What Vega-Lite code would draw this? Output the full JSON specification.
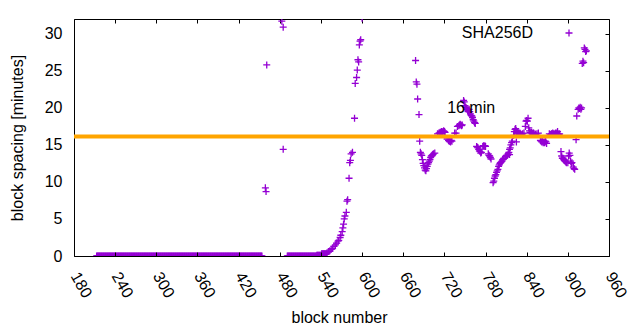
{
"$schema": "https://vega.github.io/schema/vega-lite/v6.json",
"width": 535, "height": 237,
"autosize": "none",
"padding": {"left": 74, "top": 19, "right": 31, "bottom": 74},
"background": "white",
"config": {"font": "Liberation Sans", "view": {"stroke": "black", "strokeWidth": 1},
 "axis": {"grid": false, "labelFont": "Liberation Sans", "titleFont": "Liberation Sans", "labelFontSize": 16, "titleFontSize": 16, "labelColor": "black", "titleColor": "black", "titleFontWeight": "normal", "domainColor": "black", "tickColor": "black"}},
"datasets": {
"pts": [
{"b":213,"v":0},{"b":214,"v":0},{"b":215,"v":0},{"b":216,"v":0},{"b":217,"v":0},{"b":218,"v":0},{"b":219,"v":0},{"b":220,"v":0},{"b":221,"v":0},{"b":222,"v":0},
{"b":223,"v":0},{"b":224,"v":0},{"b":225,"v":0},{"b":226,"v":0},{"b":227,"v":0},{"b":228,"v":0},{"b":229,"v":0},{"b":230,"v":0},{"b":231,"v":0},{"b":232,"v":0},
{"b":233,"v":0},{"b":234,"v":0},{"b":235,"v":0},{"b":236,"v":0},{"b":237,"v":0},{"b":238,"v":0},{"b":239,"v":0},{"b":240,"v":0},{"b":241,"v":0},{"b":242,"v":0},
{"b":243,"v":0},{"b":244,"v":0},{"b":245,"v":0},{"b":246,"v":0},{"b":247,"v":0},{"b":248,"v":0},{"b":249,"v":0},{"b":250,"v":0},{"b":251,"v":0},{"b":252,"v":0},
{"b":253,"v":0},{"b":254,"v":0},{"b":255,"v":0},{"b":256,"v":0},{"b":257,"v":0},{"b":258,"v":0},{"b":259,"v":0},{"b":260,"v":0},{"b":261,"v":0},{"b":262,"v":0},
{"b":263,"v":0},{"b":264,"v":0},{"b":265,"v":0},{"b":266,"v":0},{"b":267,"v":0},{"b":268,"v":0},{"b":269,"v":0},{"b":270,"v":0},{"b":271,"v":0},{"b":272,"v":0},
{"b":273,"v":0},{"b":274,"v":0},{"b":275,"v":0},{"b":276,"v":0},{"b":277,"v":0},{"b":278,"v":0},{"b":279,"v":0},{"b":280,"v":0},{"b":281,"v":0},{"b":282,"v":0},
{"b":283,"v":0},{"b":284,"v":0},{"b":285,"v":0},{"b":286,"v":0},{"b":287,"v":0},{"b":288,"v":0},{"b":289,"v":0},{"b":290,"v":0},{"b":291,"v":0},{"b":292,"v":0},
{"b":293,"v":0},{"b":294,"v":0},{"b":295,"v":0},{"b":296,"v":0},{"b":297,"v":0},{"b":298,"v":0},{"b":299,"v":0},{"b":300,"v":0},{"b":301,"v":0},{"b":302,"v":0},
{"b":303,"v":0},{"b":304,"v":0},{"b":305,"v":0},{"b":306,"v":0},{"b":307,"v":0},{"b":308,"v":0},{"b":309,"v":0},{"b":310,"v":0},{"b":311,"v":0},{"b":312,"v":0},
{"b":313,"v":0},{"b":314,"v":0},{"b":315,"v":0},{"b":316,"v":0},{"b":317,"v":0},{"b":318,"v":0},{"b":319,"v":0},{"b":320,"v":0},{"b":321,"v":0},{"b":322,"v":0},
{"b":323,"v":0},{"b":324,"v":0},{"b":325,"v":0},{"b":326,"v":0},{"b":327,"v":0},{"b":328,"v":0},{"b":329,"v":0},{"b":330,"v":0},{"b":331,"v":0},{"b":332,"v":0},
{"b":333,"v":0},{"b":334,"v":0},{"b":335,"v":0},{"b":336,"v":0},{"b":337,"v":0},{"b":338,"v":0},{"b":339,"v":0},{"b":340,"v":0},{"b":341,"v":0},{"b":342,"v":0},
{"b":343,"v":0},{"b":344,"v":0},{"b":345,"v":0},{"b":346,"v":0},{"b":347,"v":0},{"b":348,"v":0},{"b":349,"v":0},{"b":350,"v":0},{"b":351,"v":0},{"b":352,"v":0},
{"b":353,"v":0},{"b":354,"v":0},{"b":355,"v":0},{"b":356,"v":0},{"b":357,"v":0},{"b":358,"v":0},{"b":359,"v":0},{"b":360,"v":0},{"b":361,"v":0},{"b":362,"v":0},
{"b":363,"v":0},{"b":364,"v":0},{"b":365,"v":0},{"b":366,"v":0},{"b":367,"v":0},{"b":368,"v":0},{"b":369,"v":0},{"b":370,"v":0},{"b":371,"v":0},{"b":372,"v":0},
{"b":373,"v":0},{"b":374,"v":0},{"b":375,"v":0},{"b":376,"v":0},{"b":377,"v":0},{"b":378,"v":0},{"b":379,"v":0},{"b":380,"v":0},{"b":381,"v":0},{"b":382,"v":0},
{"b":383,"v":0},{"b":384,"v":0},{"b":385,"v":0},{"b":386,"v":0},{"b":387,"v":0},{"b":388,"v":0},{"b":389,"v":0},{"b":390,"v":0},{"b":391,"v":0},{"b":392,"v":0},
{"b":393,"v":0},{"b":394,"v":0},{"b":395,"v":0},{"b":396,"v":0},{"b":397,"v":0},{"b":398,"v":0},{"b":399,"v":0},{"b":400,"v":0},{"b":401,"v":0},{"b":402,"v":0},
{"b":403,"v":0},{"b":404,"v":0},{"b":405,"v":0},{"b":406,"v":0},{"b":407,"v":0},{"b":408,"v":0},{"b":409,"v":0},{"b":410,"v":0},{"b":411,"v":0},{"b":412,"v":0},
{"b":413,"v":0},{"b":414,"v":0},{"b":415,"v":0},{"b":416,"v":0},{"b":417,"v":0},{"b":418,"v":0},{"b":419,"v":0},{"b":420,"v":0},{"b":421,"v":0},{"b":422,"v":0},
{"b":423,"v":0},{"b":424,"v":0},{"b":425,"v":0},{"b":426,"v":0},{"b":427,"v":0},{"b":428,"v":0},{"b":429,"v":0},{"b":430,"v":0},{"b":431,"v":0},{"b":432,"v":0},
{"b":433,"v":0},{"b":434,"v":0},{"b":435,"v":0},{"b":436,"v":0},{"b":437,"v":0},{"b":438,"v":0},{"b":439,"v":0},{"b":440,"v":0},{"b":441,"v":0},{"b":442,"v":0},
{"b":443,"v":0},{"b":444,"v":0},{"b":445,"v":0},{"b":446,"v":0},{"b":447,"v":0},{"b":448,"v":0},{"b":449,"v":0},{"b":450,"v":0},{"b":451,"v":0},{"b":452,"v":0},
{"b":453,"v":0},{"b":454,"v":0},
{"b":459,"v":9.2},{"b":460,"v":8.7},{"b":461,"v":25.8},
{"b":483,"v":31.7},{"b":485,"v":30.9},{"b":485,"v":14.4},
{"b":491,"v":0},{"b":492,"v":0},{"b":493,"v":0},{"b":494,"v":0},{"b":495,"v":0},{"b":496,"v":0},{"b":497,"v":0},{"b":498,"v":0},{"b":499,"v":0},{"b":500,"v":0},
{"b":501,"v":0},{"b":502,"v":0},{"b":503,"v":0},{"b":504,"v":0},{"b":505,"v":0},{"b":506,"v":0},{"b":507,"v":0},{"b":508,"v":0},{"b":509,"v":0},{"b":510,"v":0},
{"b":511,"v":0},{"b":512,"v":0},{"b":513,"v":0},{"b":514,"v":0},{"b":515,"v":0},{"b":516,"v":0},{"b":517,"v":0},{"b":518,"v":0},{"b":519,"v":0},{"b":520,"v":0},
{"b":521,"v":0},{"b":522,"v":0},{"b":523,"v":0},{"b":524,"v":0},{"b":525,"v":0},{"b":526,"v":0},{"b":527,"v":0},{"b":528,"v":0},{"b":529,"v":0},{"b":530,"v":0},
{"b":531,"v":0},{"b":532,"v":0},{"b":533,"v":0},
{"b":534,"v":0.1},{"b":535,"v":0.1},{"b":536,"v":0.1},{"b":537,"v":0.1},{"b":538,"v":0.1},{"b":539,"v":0.1},{"b":540,"v":0.1},
{"b":541,"v":0.3},{"b":542,"v":0.3},{"b":543,"v":0.3},{"b":544,"v":0.3},{"b":545,"v":0.3},{"b":546,"v":0.3},{"b":547,"v":0.3},{"b":548,"v":0.3},
{"b":549,"v":0.45},{"b":551,"v":0.6},{"b":553,"v":0.7},{"b":555,"v":0.9},{"b":557,"v":1.0},{"b":559,"v":1.3},{"b":561,"v":1.5},{"b":563,"v":1.75},{"b":565,"v":2.0},{"b":566,"v":2.1},
{"b":568,"v":2.5},{"b":569,"v":2.8},{"b":571,"v":3.3},{"b":572,"v":3.8},{"b":573,"v":4.3},{"b":574,"v":5.0},{"b":575,"v":5.4},{"b":577,"v":5.9},{"b":578,"v":7.4},{"b":579,"v":7.6},
{"b":581,"v":10.5},{"b":582,"v":12.6},{"b":583,"v":12.9},{"b":584,"v":13.8},{"b":586,"v":14.0},{"b":589,"v":18.6},{"b":590,"v":23.3},{"b":592,"v":24.1},{"b":593,"v":25.1},{"b":594,"v":26.5},
{"b":595,"v":26.2},{"b":596,"v":28.5},{"b":597,"v":29.0},{"b":598,"v":29.2},{"b":600,"v":32.1},
{"b":678,"v":26.4},{"b":679,"v":23.5},{"b":680,"v":23.2},{"b":681,"v":21.2},{"b":683,"v":19.1},{"b":684,"v":15.5},{"b":685,"v":14.0},{"b":686,"v":13.8},{"b":687,"v":13.6},{"b":688,"v":13.0},
{"b":689,"v":12.5},{"b":690,"v":12.2},{"b":691,"v":11.9},{"b":692,"v":11.6},{"b":693,"v":11.5},{"b":694,"v":11.8},{"b":695,"v":12.1},{"b":696,"v":12.4},{"b":697,"v":12.6},{"b":698,"v":12.8},
{"b":699,"v":13.0},{"b":700,"v":13.3},{"b":701,"v":13.5},{"b":702,"v":13.6},{"b":703,"v":13.7},{"b":704,"v":13.8},{"b":706,"v":13.9},
{"b":710,"v":16.5},{"b":712,"v":16.6},{"b":713,"v":16.6},{"b":714,"v":16.7},{"b":715,"v":16.7},{"b":716,"v":16.8},{"b":717,"v":16.7},{"b":718,"v":16.8},{"b":719,"v":16.9},{"b":720,"v":16.8},{"b":721,"v":16.7},
{"b":724,"v":15.8},{"b":726,"v":15.6},{"b":727,"v":15.5},{"b":728,"v":15.5},{"b":729,"v":15.4},{"b":730,"v":15.6},{"b":731,"v":15.5},
{"b":735,"v":16.6},{"b":737,"v":16.6},{"b":739,"v":17.5},{"b":741,"v":17.6},{"b":742,"v":17.7},{"b":743,"v":17.8},{"b":744,"v":17.7},{"b":745,"v":17.6},{"b":746,"v":17.7},
{"b":748,"v":21.0},{"b":749,"v":20.8},{"b":750,"v":20.3},{"b":751,"v":20.1},{"b":752,"v":20.0},{"b":753,"v":19.8},{"b":754,"v":19.6},{"b":755,"v":19.5},{"b":756,"v":19.8},{"b":757,"v":19.5},
{"b":758,"v":19.2},{"b":759,"v":19.0},{"b":760,"v":18.9},{"b":761,"v":18.7},{"b":762,"v":18.4},{"b":763,"v":18.2},{"b":764,"v":18.0},{"b":765,"v":17.9},
{"b":767,"v":14.8},{"b":768,"v":14.7},{"b":769,"v":14.6},{"b":770,"v":14.4},{"b":771,"v":14.2},{"b":772,"v":14.1},{"b":773,"v":13.9},{"b":774,"v":14.0},
{"b":776,"v":14.8},{"b":777,"v":14.9},{"b":778,"v":14.8},{"b":779,"v":14.9},{"b":780,"v":14.8},
{"b":784,"v":13.8},{"b":785,"v":13.6},{"b":786,"v":13.5},{"b":787,"v":13.3},{"b":788,"v":13.1},
{"b":791,"v":9.9},{"b":792,"v":10.1},{"b":793,"v":10.5},{"b":794,"v":10.8},{"b":795,"v":11.0},{"b":796,"v":11.3},{"b":797,"v":11.5},{"b":798,"v":11.7},{"b":799,"v":12.1},{"b":800,"v":12.3},
{"b":801,"v":12.5},{"b":802,"v":12.6},{"b":803,"v":12.7},{"b":804,"v":12.8},{"b":805,"v":13.0},{"b":806,"v":13.1},{"b":807,"v":13.2},{"b":809,"v":13.4},{"b":810,"v":13.5},{"b":811,"v":13.6},
{"b":812,"v":13.6},{"b":813,"v":13.8},{"b":814,"v":14.0},{"b":815,"v":14.4},{"b":815,"v":13.7},{"b":816,"v":14.6},{"b":817,"v":15.0},{"b":818,"v":15.3},{"b":819,"v":15.5},
{"b":821,"v":16.3},{"b":822,"v":16.8},{"b":823,"v":17.1},{"b":824,"v":17.2},{"b":825,"v":16.9},{"b":825,"v":15.4},{"b":826,"v":16.7},{"b":827,"v":16.5},{"b":828,"v":16.6},{"b":829,"v":16.4},
{"b":830,"v":16.6},{"b":831,"v":16.5},{"b":832,"v":16.4},{"b":834,"v":16.5},{"b":836,"v":16.6},{"b":838,"v":17.5},{"b":839,"v":18.2},{"b":840,"v":18.3},{"b":841,"v":18.2},{"b":842,"v":18.6},
{"b":843,"v":17.3},{"b":844,"v":16.9},{"b":845,"v":16.7},{"b":846,"v":16.6},{"b":847,"v":16.7},{"b":848,"v":16.5},{"b":849,"v":16.6},{"b":850,"v":16.6},{"b":852,"v":16.5},{"b":853,"v":16.4},
{"b":855,"v":16.5},{"b":857,"v":16.6},
{"b":860,"v":15.6},{"b":861,"v":15.5},{"b":862,"v":15.4},{"b":863,"v":15.5},{"b":864,"v":15.3},{"b":865,"v":15.4},{"b":866,"v":15.3},{"b":867,"v":15.5},{"b":868,"v":15.4},{"b":869,"v":15.2},
{"b":873,"v":16.5},{"b":875,"v":16.4},{"b":876,"v":16.5},{"b":877,"v":16.5},{"b":878,"v":16.6},{"b":879,"v":16.5},{"b":880,"v":16.4},{"b":881,"v":16.5},{"b":882,"v":16.6},{"b":883,"v":16.5},
{"b":884,"v":16.6},{"b":885,"v":16.8},{"b":886,"v":16.5},{"b":887,"v":16.4},{"b":888,"v":16.5},
{"b":890,"v":14.1},{"b":891,"v":13.5},{"b":892,"v":13.2},{"b":893,"v":13.2},{"b":894,"v":13.0},{"b":895,"v":12.9},{"b":896,"v":12.8},{"b":897,"v":12.7},{"b":898,"v":12.6},{"b":900,"v":12.6},
{"b":901,"v":13.5},{"b":902,"v":13.9},{"b":903,"v":13.6},{"b":904,"v":12.8},{"b":905,"v":12.5},{"b":906,"v":12.6},{"b":908,"v":12.0},{"b":909,"v":11.8},{"b":910,"v":11.7},{"b":912,"v":15.7},
{"b":913,"v":18.9},{"b":915,"v":19.8},{"b":916,"v":20.0},{"b":917,"v":19.9},{"b":918,"v":20.1},{"b":919,"v":19.8},{"b":920,"v":20.0},{"b":921,"v":26.0},{"b":922,"v":26.3},{"b":923,"v":26.1},
{"b":924,"v":28.1},{"b":925,"v":27.9},{"b":926,"v":27.6},{"b":927,"v":27.7}
],
"line": [{"m": 16.15}],
"lab": [{"b": 724, "v": 20, "t": "16 min"}]
},
"layer": [
{
 "data": {"name": "pts"},
 "mark": {"type": "point", "shape": "M-1,0H1M0,-1V1", "filled": false, "size": 49, "strokeWidth": 1.3, "opacity": 1, "clip": true},
 "encoding": {
  "x": {"field": "b", "type": "quantitative", "scale": {"domain": [180, 960], "nice": false, "zero": false},
   "axis": {"orient": "bottom", "values": [180,240,300,360,420,480,540,600,660,720,780,840,900,960], "labelAngle": 60, "labelAlign": "left", "labelBaseline": "middle", "labelOffset": 0, "labelPadding": 21, "tickSize": -4, "domain": true, "zindex": 1, "labelFlush": false, "labelOverlap": false, "title": "block number", "titleX": 265, "titleY": 66, "titleBaseline": "alphabetic"}},
  "y": {"field": "v", "type": "quantitative", "scale": {"domain": [0, 32], "nice": false, "zero": true},
   "axis": {"orient": "left", "values": [0,5,10,15,20,25,30], "ticks": false, "domain": false, "labelPadding": 12, "title": "block spacing [minutes]", "titleX": -52, "titleY": 118.5, "titleAngle": -90, "titleAlign": "center", "titleBaseline": "alphabetic"}},
  "color": {"datum": "SHA256D", "type": "nominal", "scale": {"range": ["#9400d3"]},
   "legend": {"orient": "none", "legendX": 487, "legendY": 6, "padding": 0, "title": null, "symbolType": "M-1,0H1M0,-1V1", "symbolSize": 49, "symbolStrokeWidth": 1.3, "symbolFillColor": "transparent", "symbolStrokeColor": "#9400d3", "labelFont": "Liberation Sans", "labelFontSize": 16, "labelColor": "black", "labelAlign": "right", "labelOffset": -44, "labelBaseline": "middle"}}
 }
},
{
 "data": {"name": "line"},
 "mark": {"type": "rule", "color": "#ffa500", "strokeWidth": 4},
 "encoding": {
  "y": {"field": "m", "type": "quantitative",
   "axis": {"orient": "right", "values": [0,5,10,15,20,25,30], "labels": false, "tickSize": -4, "domain": false, "title": null}}
 }
},
{
 "data": {"name": "lab"},
 "mark": {"type": "text", "align": "left", "baseline": "middle", "fontSize": 16, "font": "Liberation Sans", "color": "black"},
 "encoding": {
  "x": {"field": "b", "type": "quantitative",
   "axis": {"orient": "top", "values": [180,240,300,360,420,480,540,600,660,720,780,840,900,960], "labels": false, "tickSize": -4, "domain": false, "title": null}},
  "y": {"field": "v", "type": "quantitative", "axis": null},
  "text": {"field": "t"}
 }
}
],
"resolve": {"axis": {"x": "independent", "y": "independent"}}
}
